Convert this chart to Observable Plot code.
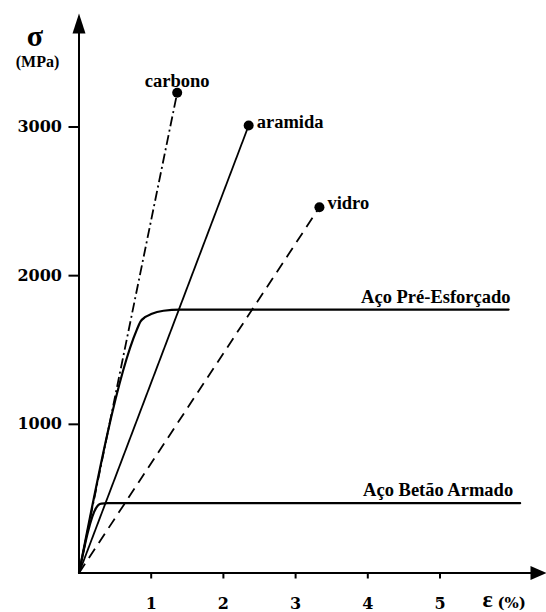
<!DOCTYPE html>
<html><head><meta charset="utf-8">
<script src="https://cdn.jsdelivr.net/npm/d3@7"></script>
<script src="https://cdn.jsdelivr.net/npm/@observablehq/plot@0.6"></script>
<style>body{margin:0;background:#fff} #chart svg{display:block}</style>
</head><body><div id="chart"></div>
<script>
// ---- data ----
const fiberNames  = ["carbono", "aramida", "vidro"];
const fiberStrain = [1.36, 2.35, 3.33];        // ε (%) at rupture
const fiberStress = [3230, 3010, 2460];        // σ (MPa) at rupture

const preName   = "Aço Pré-Esforçado";
const preStrain = [0, 0.80, 0.85, 0.92, 1.00, 1.17, 1.40, 5.95];
const preStress = [0, 1635, 1690, 1722, 1742, 1764, 1771, 1772];

const betName   = "Aço Betão Armado";
const betStrain = [0, 0.24, 0.27, 0.31, 0.40, 6.11];
const betStress = [0, 440, 458, 467, 470, 470];

const xTicks = [1, 2, 3, 4, 5];
const yTicks = [1000, 2000, 3000];

// ---- layout ----
const W = 546, H = 612;
const mL = 78.5, mT = 13, mR = 0, mB = 39.5;
const pxPerX = 72.2, pxPerY = 0.14867;
const xMax = (W - mL - mR) / pxPerX;
const yMax = (H - mT - mB) / pxPerY;

const fibers = fiberNames.map((name, i) => ({name, strain: fiberStrain[i], stress: fiberStress[i]}));
const pre = preStrain.map((s, i) => ({strain: s, stress: preStress[i]}));
const bet = betStrain.map((s, i) => ({strain: s, stress: betStress[i]}));
const fiberDash = ["10,3.5,2,3.5", null, "11,7"];

const serif = "'Liberation Serif', 'Times New Roman', serif";
const tickFont = "'DejaVu Serif', serif";

const arrowUp = {draw(ctx) { ctx.moveTo(0, 0); ctx.lineTo(6.5, 20); ctx.lineTo(-6.5, 20); ctx.closePath(); }};
const arrowRight = {draw(ctx) { ctx.moveTo(0, 0); ctx.lineTo(-16, -7); ctx.lineTo(-16, 7); ctx.closePath(); }};

const fiberLines = fibers.map((f, i) => Plot.link([f], {
  x1: () => 0, y1: () => 0, x2: "strain", y2: "stress",
  stroke: "black", strokeWidth: 1.8, strokeDasharray: fiberDash[i]
}));

const chart = Plot.plot({
  width: W, height: H,
  marginLeft: mL, marginTop: mT, marginRight: mR, marginBottom: mB,
  x: {domain: [0, xMax]},
  y: {domain: [0, yMax]},
  style: {background: "white", color: "black", overflow: "visible"},
  marks: [
    // axes lines + arrows
    Plot.ruleX([0], {y1: 0, y2: yMax * 0.985, stroke: "black", strokeWidth: 2}),
    Plot.ruleY([0], {x1: 0, x2: xMax * 0.985, stroke: "black", strokeWidth: 2}),
    Plot.dot([0], {x: () => 0, y: () => yMax, symbol: arrowUp, fill: "black", stroke: "none"}),
    Plot.dot([0], {x: () => xMax, y: () => 0, symbol: arrowRight, fill: "black", stroke: "none"}),
    Plot.axisX(xTicks, {tickSize: 6, tickPadding: 19, strokeWidth: 2, label: null,
      fontSize: 16, fontWeight: "bold", fontFamily: tickFont}),
    Plot.axisY(yTicks, {tickSize: 10, tickPadding: 7, strokeWidth: 2, label: null,
      tickFormat: d => String(d), fontSize: 16, fontWeight: "bold", fontFamily: tickFont}),
    // fibers
    ...fiberLines,
    Plot.dot(fibers, {x: "strain", y: "stress", r: 5, fill: "black"}),
    Plot.text(fibers.slice(0, 1), {x: "strain", y: "stress", text: "name", textAnchor: "middle",
      lineAnchor: "bottom", dy: -6, fontSize: 18.5, fontWeight: "bold", fontFamily: serif}),
    Plot.text(fibers.slice(1), {x: "strain", y: "stress", text: "name", textAnchor: "start",
      lineAnchor: "bottom", dx: 8, dy: 2, fontSize: 18.5, fontWeight: "bold", fontFamily: serif}),
    // steels
    Plot.line(pre, {x: "strain", y: "stress", curve: "monotone-x", stroke: "black", strokeWidth: 2.2}),
    Plot.line(bet, {x: "strain", y: "stress", curve: "monotone-x", stroke: "black", strokeWidth: 2.2}),
    Plot.text([pre[pre.length - 1]], {x: "strain", y: "stress", text: () => preName, textAnchor: "end",
      lineAnchor: "bottom", dx: 2, dy: -7, fontSize: 18.5, fontWeight: "bold", fontFamily: serif}),
    Plot.text([bet[bet.length - 1]], {x: "strain", y: "stress", text: () => betName, textAnchor: "end",
      lineAnchor: "bottom", dx: -7, dy: -7, fontSize: 18.5, fontWeight: "bold", fontFamily: serif}),
    // axis titles
    Plot.text(["σ"], {frameAnchor: "top-left", dx: -44, dy: 32, lineAnchor: "bottom", textAnchor: "middle",
      fontSize: 30, fontWeight: "bold", fontFamily: serif}),
    Plot.text(["(MPa)"], {frameAnchor: "top-left", dx: -41.5, dy: 53, lineAnchor: "bottom", textAnchor: "middle",
      fontSize: 16, fontWeight: "bold", fontFamily: serif}),
    Plot.text(["ε"], {frameAnchor: "bottom-right", dx: -59, dy: 33.5, lineAnchor: "bottom", textAnchor: "middle",
      fontSize: 24, fontWeight: "bold", fontFamily: serif}),
    Plot.text(["(%)"], {frameAnchor: "bottom-right", dx: -49, dy: 34.5, lineAnchor: "bottom", textAnchor: "start",
      fontSize: 15, fontWeight: "bold", fontFamily: tickFont})
  ]
});
document.getElementById("chart").appendChild(chart);
</script>
</body></html>
